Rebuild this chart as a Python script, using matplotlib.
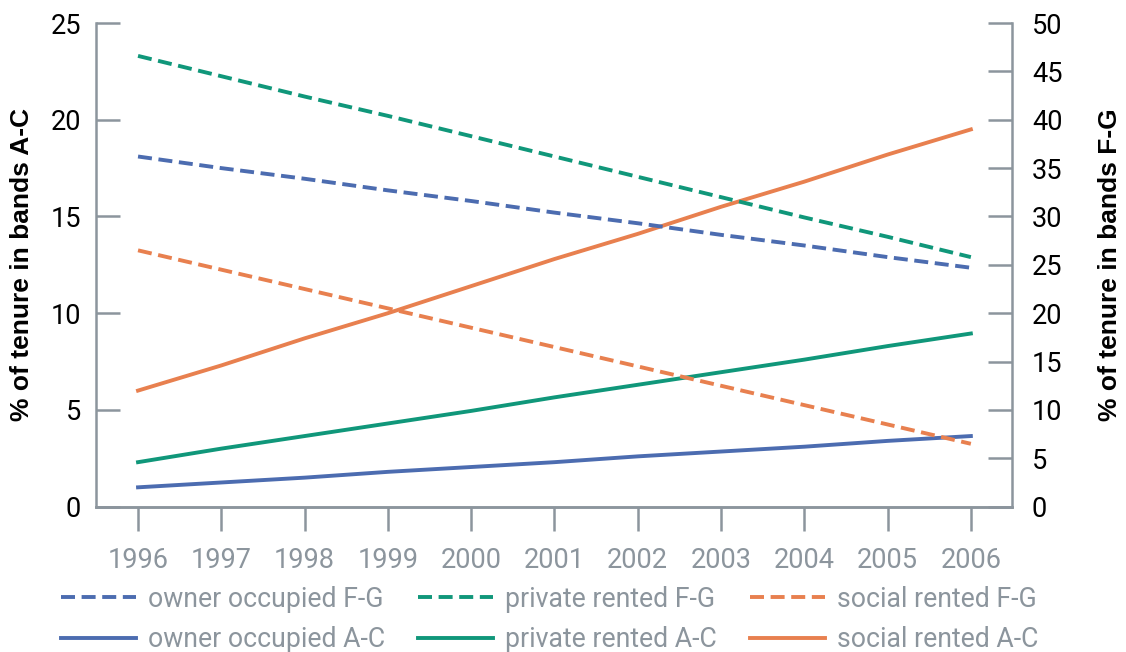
import matplotlib.pyplot as plt

years = [1996, 1997, 1998, 1999, 2000, 2001, 2002, 2003, 2004, 2005, 2006]

# bands A-C, left axis (%)
owner_ac = [1.0, 1.25, 1.5, 1.8, 2.05, 2.3, 2.6, 2.85, 3.1, 3.4, 3.65]
private_ac = [2.3, 3.0, 3.65, 4.3, 4.95, 5.65, 6.3, 6.95, 7.6, 8.3, 8.95]
social_ac = [6.0, 7.3, 8.7, 10.0, 11.4, 12.8, 14.1, 15.5, 16.8, 18.2, 19.5]

# bands F-G, right axis (%)
owner_fg = [36.2, 35.0, 33.9, 32.7, 31.6, 30.4, 29.3, 28.1, 27.0, 25.8, 24.7]
private_fg = [46.6, 44.5, 42.4, 40.4, 38.3, 36.2, 34.1, 32.0, 29.9, 27.9, 25.8]
social_fg = [26.5, 24.5, 22.5, 20.5, 18.5, 16.5, 14.5, 12.5, 10.5, 8.5, 6.5]

blue = "#4C6CB0"
green = "#10977A"
orange = "#E8804F"
grey = "#8C959D"

plt.rcParams["font.family"] = ["Roboto", "DejaVu Sans"]

fig = plt.figure(figsize=(11.26, 6.52), dpi=100)
ax = fig.add_axes([0.0856, 0.2229, 0.8136, 0.7418])
ax2 = ax.twinx()

lw = 2.8
dash = (0, (3.6, 1.7))

l_owner_fg, = ax2.plot(years, owner_fg, color=blue, lw=lw, linestyle=dash)
l_private_fg, = ax2.plot(years, private_fg, color=green, lw=lw, linestyle=dash)
l_social_fg, = ax2.plot(years, social_fg, color=orange, lw=lw, linestyle=dash)
l_owner_ac, = ax.plot(years, owner_ac, color=blue, lw=lw)
l_private_ac, = ax.plot(years, private_ac, color=green, lw=lw)
l_social_ac, = ax.plot(years, social_ac, color=orange, lw=lw)

ax.set_xlim(1995.5, 2006.5)
ax.set_ylim(0, 25)
ax2.set_ylim(0, 50)
ax.set_xticks(years)
ax.set_yticks(range(0, 26, 5))
ax2.set_yticks(range(0, 51, 5))

for a in (ax, ax2):
    a.spines["top"].set_visible(False)
    for s in ("left", "right", "bottom"):
        a.spines[s].set_color(grey)
        a.spines[s].set_linewidth(1.8)
    a.tick_params(axis="y", direction="in", length=17, width=1.8, color=grey,
                  labelsize=19.5, labelcolor="black")
ax.spines["right"].set_visible(False)
ax2.spines["left"].set_visible(False)
ax.tick_params(axis="y", pad=11)
ax2.tick_params(axis="y", pad=14)
ax.tick_params(axis="x", direction="out", length=17, width=1.8, color=grey,
               labelsize=19.5, labelcolor=grey, pad=12)

ax.set_ylabel("% of tenure in bands A-C", fontsize=19, fontweight="bold",
              family=["Liberation Sans", "DejaVu Sans"])
ax2.set_ylabel("% of tenure in bands F-G", fontsize=19, fontweight="bold",
               family=["Liberation Sans", "DejaVu Sans"])
ax.yaxis.set_label_coords(-0.068, 0.5)
ax2.yaxis.set_label_coords(1.093, 0.5)

handles = [l_owner_fg, l_owner_ac, l_private_fg, l_private_ac, l_social_fg, l_social_ac]
labels = ["owner occupied F-G", "owner occupied A-C",
          "private rented F-G", "private rented A-C",
          "social rented F-G", "social rented A-C"]
leg = fig.legend(handles, labels, ncol=3, loc="upper left",
                 bbox_to_anchor=(0.045, 0.118), frameon=False,
                 prop={"size": 19.2},
                 handlelength=2.8, handletextpad=0.45, columnspacing=1.25,
                 labelspacing=0.5, borderaxespad=0)
for t in leg.get_texts():
    t.set_color(grey)

fig.savefig("out.png", dpi=100)
